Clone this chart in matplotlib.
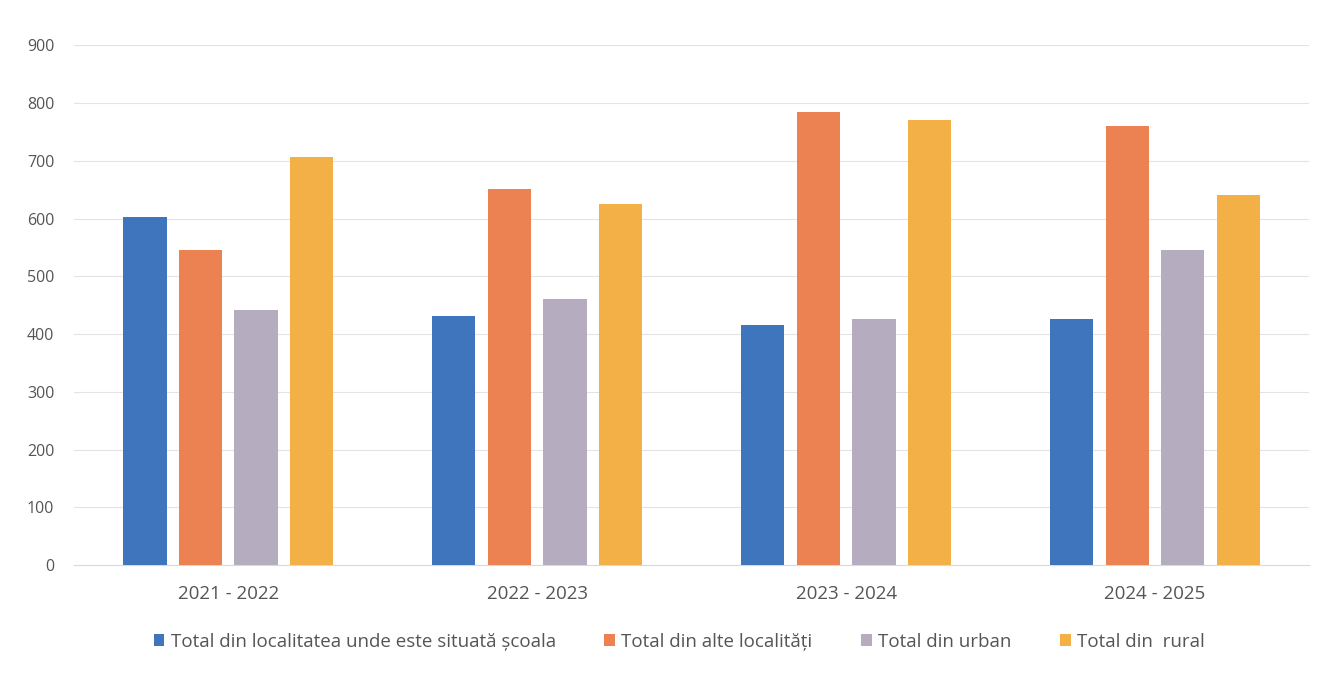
import matplotlib
matplotlib.use("Agg")
import matplotlib.pyplot as plt
import numpy as np

categories = ["2021 - 2022", "2022 - 2023", "2023 - 2024", "2024 - 2025"]
series_names = ["Total din localitatea unde este situată școala", "Total din alte localități",
                "Total din urban", "Total din  rural"]
local = [602, 431, 415, 426]
alte = [545, 651, 784, 760]
urban = [441, 460, 427, 545]
rural = [706, 625, 770, 640]
yticks = [0, 100, 200, 300, 400, 500, 600, 700, 800, 900]

colors = ["#3f75bd", "#ec8152", "#b5acbf", "#f2b046"]
plt.rcParams['font.family'] = ['Open Sans', 'DejaVu Sans']

fig = plt.figure(figsize=(13.43, 6.86), dpi=100)
ax = fig.add_axes([0.055, 0.176, 0.92, 0.758])
x = np.arange(len(categories))
w = 0.14
offs = [-0.27, -0.09, 0.09, 0.27]
for vals, c, o, n in zip([local, alte, urban, rural], colors, offs, series_names):
    ax.bar(x + o, vals, w, color=c, label=n, zorder=3)

ax.set_xlim(-0.5, 3.5)
ax.set_ylim(0, 900)
ax.set_yticks(yticks)
ax.set_xticks(x)
ax.set_xticklabels(categories, fontsize=13.5)
ax.grid(axis='y', color='#e3e3e3', linewidth=0.8, zorder=0)
for s in ['top', 'right', 'left']:
    ax.spines[s].set_visible(False)
ax.spines['bottom'].set_color('#d9d9d9')
ax.tick_params(axis='both', length=0, labelcolor='#555555')
ax.tick_params(axis='y', pad=14, labelsize=11.5)
ax.tick_params(axis='x', pad=14)
leg = ax.legend(loc='upper center', bbox_to_anchor=(0.49, -0.097), ncol=4, frameon=False,
                fontsize=13.5, handlelength=0.55, handleheight=0.55, columnspacing=2.6,
                handletextpad=0.35, labelcolor='#555555')
fig.savefig("out.png", dpi=100)
